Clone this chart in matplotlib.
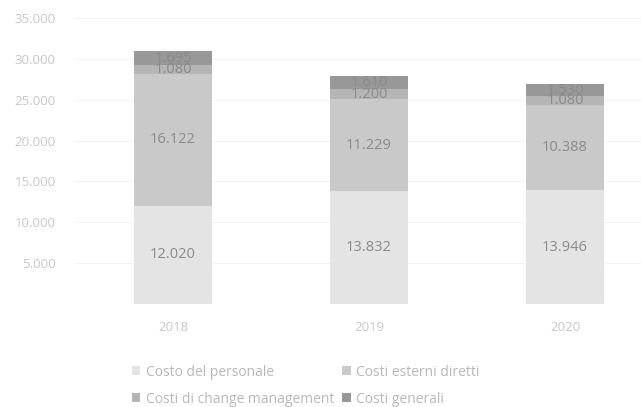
import matplotlib
matplotlib.use("Agg")
import matplotlib.pyplot as plt
import numpy as np

years = ["2018", "2019", "2020"]
series_names = ["Costo del personale", "Costi esterni diretti",
                "Costi di change management", "Costi generali"]
personale = [12020, 13832, 13946]
esterni = [16122, 11229, 10388]
change_mgmt = [1080, 1200, 1080]
generali = [1695, 1610, 1530]
yticks = [0, 5000, 10000, 15000, 20000, 25000, 30000, 35000]
ytick_labels = ["", "5.000", "10.000", "15.000", "20.000", "25.000", "30.000", "35.000"]

colors = ["#e4e4e4", "#c9c9c9", "#b5b5b5", "#989898"]

plt.rcParams['font.family'] = ['Open Sans', 'DejaVu Sans']

fig = plt.figure(figsize=(6.41, 4.07), dpi=100)
ax = fig.add_axes([75/641, 103/407, 588/641, 286/407])

x = np.arange(len(years))
width = 0.4
series = [personale, esterni, change_mgmt, generali]
bottom = np.zeros(len(years))
handles = []
for vals, c, name in zip(series, colors, series_names):
    vals = np.array(vals)
    h = ax.bar(x, vals, width, bottom=bottom, color=c, label=name, zorder=2)
    handles.append(h)
    for xi, b, v in zip(x, bottom, vals):
        txt = f"{v:,}".replace(",", ".")
        ax.text(xi, b + v / 2, txt, ha="center", va="center",
                fontsize=10.5, color="#8a8a8a", zorder=3)
    bottom += vals

ax.set_xlim(-0.5, 2.5)
ax.set_ylim(0, 35000)
ax.set_yticks(yticks)
ax.set_yticklabels(ytick_labels)
ax.set_xticks(x)
ax.set_xticklabels(years)
ax.tick_params(axis="both", length=0, colors="#c8c8c8", labelsize=9.5)
ax.tick_params(axis="y", pad=14)
ax.tick_params(axis="x", pad=12)
ax.yaxis.grid(True, color="#f4f4f4", linewidth=0.8, zorder=0)
for s in ax.spines.values():
    s.set_visible(False)

order = [0, 2, 1, 3]
leg = fig.legend([handles[i] for i in order], [series_names[i] for i in order],
                 loc="upper left", bbox_to_anchor=(122/641, 1 - 355/407),
                 ncol=2, frameon=False, fontsize=10, handlelength=0.6, handleheight=0.6,
                 columnspacing=0.6, handletextpad=0.4, labelspacing=0.85,
                 borderpad=0.2)
for t in leg.get_texts():
    t.set_color("#b8b8b8")

fig.savefig("out.png", dpi=100, facecolor="white")
